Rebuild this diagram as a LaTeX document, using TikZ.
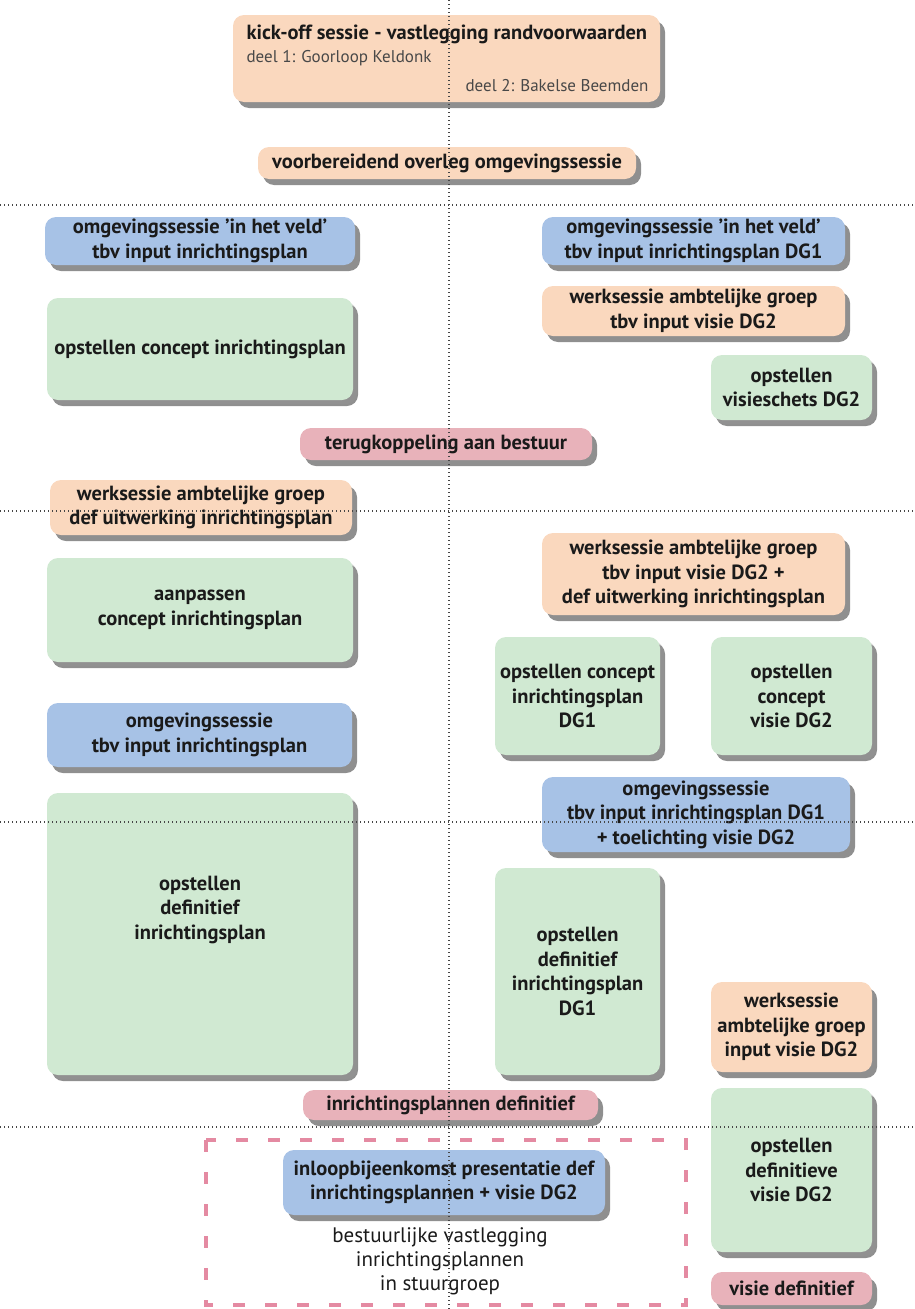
\documentclass[tikz,border=0pt]{standalone}
\usepackage{fontspec}
\setmainfont{PT Sans}
\usetikzlibrary{shadows}
\newcommand{\stagefont}{\fontsize{20.5}{24.5}\selectfont}
\newcommand{\notefont}{\fontsize{17}{20}\selectfont}
\newcommand{\besluitfont}{\fontsize{21}{24}\selectfont}
\definecolor{peach}{HTML}{FAD8BE}
\definecolor{sky}{HTML}{A7C2E6}
\definecolor{mint}{HTML}{D0E9D2}
\definecolor{rose}{HTML}{E8B2BA}
\definecolor{ink}{HTML}{1A1A1A}
\definecolor{dashrose}{HTML}{E48AA2}

\begin{document}
\begin{tikzpicture}[x=1pt,y=-1pt,
  stage/.style={rounded corners=11pt, inner sep=2pt, align=center, text=ink,
    font=\bfseries\stagefont,
    drop shadow={shadow xshift=5pt, shadow yshift=-6pt, fill=black!80, opacity=.55}},
  werk/.style={stage, fill=peach},
  veld/.style={stage, fill=sky},
  plan/.style={stage, fill=mint, drop shadow={shadow xshift=4pt, shadow yshift=-4pt, fill=black!40, opacity=.25}},
  besluit/.style={stage, fill=rose},
  grid/.style={gray!55!black, line width=1.2pt, dash pattern=on 1.2pt off 2.8pt},
  stuur/.style={dashrose, line width=4pt, dash pattern=on 12pt off 20pt}]
\useasboundingbox (0,0) rectangle (914,1309);

\node[werk, minimum width=427pt, minimum height=87pt] (kickoff) at (446.5,58.5) {};
\node[anchor=base west, text=ink, font=\bfseries\stagefont] (kicktitle) at (243,39) {kick-off sessie - vastlegging randvoorwaarden};
\node[anchor=base west, text=ink!80, font=\notefont] (deel1) at (243,62) {deel 1: Goorloop Keldonk};
\node[anchor=base east, text=ink!80, font=\notefont] (deel2) at (652,91) {deel 2: Bakelse Beemden};
\node[werk, minimum width=378pt, minimum height=32pt] (voorb) at (447,163) {voorbereidend overleg omgevingssessie};

\node[veld, minimum width=310pt, minimum height=48pt] (veldL) at (200,241) {omgevingssessie 'in het veld'\\tbv input inrichtingsplan};
\node[veld, minimum width=303pt, minimum height=48pt] (veldR) at (693.5,241) {omgevingssessie 'in het veld'\\tbv input inrichtingsplan DG1};
\node[werk, minimum width=303pt, minimum height=50pt] (werkvisie) at (693.5,311) {werksessie ambtelijke groep\\tbv input visie DG2};
\node[plan, minimum width=306pt, minimum height=102pt] (conceptL) at (200,349) {opstellen concept inrichtingsplan};
\node[plan, minimum width=161pt, minimum height=65pt] (schets) at (791.5,387.5) {opstellen\\visieschets DG2};
\node[besluit, minimum width=292pt, minimum height=32pt] (terug) at (446,444) {terugkoppeling aan bestuur};

\node[werk, minimum width=302pt, minimum height=55pt] (werkdefL) at (201,507.5) {werksessie ambtelijke groep\\def uitwerking inrichtingsplan};
\node[werk, minimum width=303pt, minimum height=82pt] (werkdefR) at (693.5,574) {werksessie ambtelijke groep\\tbv input visie DG2 +\\def uitwerking inrichtingsplan};
\node[plan, minimum width=306pt, minimum height=104pt] (aanpassen) at (200,610) {aanpassen\\concept inrichtingsplan};
\node[plan, minimum width=165pt, minimum height=118pt] (conceptDG1) at (577.5,696) {opstellen concept\\inrichtingsplan\\DG1};
\node[plan, minimum width=161pt, minimum height=118pt] (conceptDG2) at (791.5,696) {opstellen\\concept\\visie DG2};
\node[veld, minimum width=305pt, minimum height=64pt] (omgL) at (199.5,735) {omgevingssessie\\tbv input inrichtingsplan};
\node[veld, minimum width=308pt, minimum height=75pt] (omgR) at (696,814.5) {omgevingssessie\\tbv input inrichtingsplan DG1\\+ toelichting visie DG2};

\node[plan, minimum width=306pt, minimum height=282pt] (defL) at (200,934) {opstellen\\definitief\\inrichtingsplan\\[28pt]};
\node[plan, minimum width=165pt, minimum height=207pt] (defDG1) at (577.5,971.5) {opstellen\\definitief\\inrichtingsplan\\DG1};
\node[werk, minimum width=161pt, minimum height=90pt] (werkinput) at (791.5,1027) {werksessie\\ambtelijke groep\\input visie DG2};
\node[besluit, minimum width=295pt, minimum height=30pt] (plannendef) at (450.5,1105) {inrichtingsplannen definitief};
\node[plan, minimum width=161pt, minimum height=164pt] (defvisie) at (791.5,1170) {opstellen\\definitieve\\visie DG2};
\node[besluit, minimum width=161pt, minimum height=33pt] (visiedef) at (791.5,1288.5) {visie definitief};

\draw[stuur] (206,1140) rectangle (686,1305);
\node[veld, minimum width=322pt, minimum height=65pt] (inloop) at (444,1182.5) {inloopbijeenkomst presentatie def\\inrichtingsplannen + visie DG2};
\node[align=center, text=ink, font=\besluitfont] (stuurgroep) at (440,1261) {bestuurlijke vastlegging\\inrichtingsplannen\\in stuurgroep};

\draw[grid] (449,0) -- (449,1309);
\foreach \y in {205,511,822,1127}
  \draw[grid] (0,\y) -- (914,\y);
\end{tikzpicture}
\end{document}
